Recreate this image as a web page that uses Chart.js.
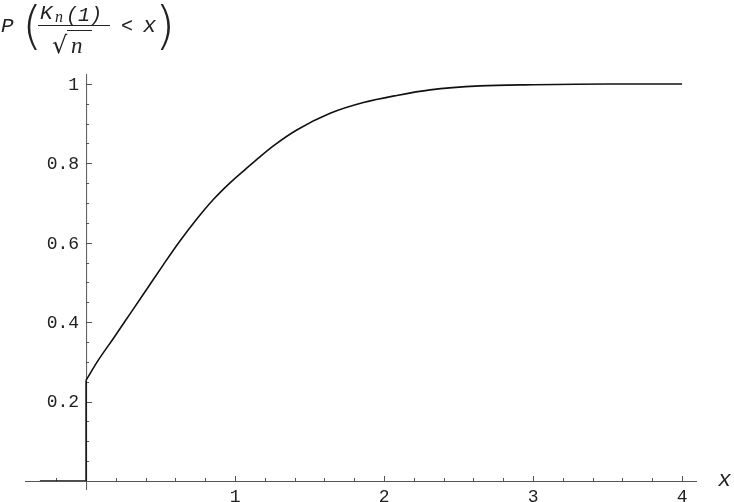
<!DOCTYPE html>
<html>
<head>
<meta charset="utf-8">
<script src="https://cdn.jsdelivr.net/npm/chart.js@4/dist/chart.umd.min.js"></script>
<style>
  html, body { margin: 0; padding: 0; background: #fff; }
  #wrap { width: 734px; height: 502px; position: relative; }
</style>
</head>
<body>
<div id="wrap"><canvas id="c"></canvas></div>
<script>
// ---- data ----
// step part: zero for x < 0, jump at x = 0
const stepX = [-0.31, 0, 0];
const stepY = [0, 0, 0.254];
// continuous part of the distribution function
const curveX = [0, 0.083, 0.183, 0.295, 0.407, 0.519, 0.631, 0.743, 0.854, 0.966, 1.078, 1.146, 1.257, 1.414, 1.638, 1.861, 2.085, 2.309, 2.644, 3.0, 3.5, 4.0];
const curveY = [0.254, 0.305, 0.359, 0.421, 0.483, 0.545, 0.605, 0.660, 0.709, 0.751, 0.788, 0.810, 0.844, 0.884, 0.926, 0.953, 0.971, 0.985, 0.995, 0.998, 1.0, 1.0];

const xTickValues = [1, 2, 3, 4];
const xTickLabels = ['1', '2', '3', '4'];
const xMinorTicks = [-0.2, 0.2, 0.4, 0.6, 0.8, 1.2, 1.4, 1.6, 1.8, 2.2, 2.4, 2.6, 2.8, 3.2, 3.4, 3.6, 3.8];
const yTickValues = [0.2, 0.4, 0.6, 0.8, 1];
const yTickLabels = ['0.2', '0.4', '0.6', '0.8', '1'];
const yMinorTicks = [0.05, 0.1, 0.15, 0.25, 0.3, 0.35, 0.45, 0.5, 0.55, 0.65, 0.7, 0.75, 0.85, 0.9, 0.95];
const xAxisLabel = 'x';

const MONO = '"Liberation Mono", "DejaVu Sans Mono", monospace';

const axesPlugin = {
  id: 'mathAxes',
  beforeDatasetsDraw(chart) {
    const ctx = chart.ctx;
    const xs = chart.scales.x, ys = chart.scales.y;
    const x0 = xs.getPixelForValue(0);
    const y0 = ys.getPixelForValue(0);
    ctx.save();
    ctx.strokeStyle = '#555';
    ctx.lineWidth = 1;
    ctx.beginPath();
    ctx.moveTo(xs.left, y0 + 0.5);
    ctx.lineTo(xs.right, y0 + 0.5);
    ctx.moveTo(x0 + 0.5, ys.top);
    ctx.lineTo(x0 + 0.5, y0 + 9);
    ctx.stroke();
    ctx.beginPath();
    xMinorTicks.forEach(v => { const p = Math.round(xs.getPixelForValue(v)) + 0.5; ctx.moveTo(p, y0); ctx.lineTo(p, y0 - 3); });
    xTickValues.forEach(v => { const p = Math.round(xs.getPixelForValue(v)) + 0.5; ctx.moveTo(p, y0); ctx.lineTo(p, y0 - 5); });
    yMinorTicks.forEach(v => { const p = Math.round(ys.getPixelForValue(v)) + 0.5; ctx.moveTo(x0, p); ctx.lineTo(x0 + 3, p); });
    yTickValues.forEach(v => { const p = Math.round(ys.getPixelForValue(v)) + 0.5; ctx.moveTo(x0, p); ctx.lineTo(x0 + 6, p); });
    ctx.stroke();
    ctx.restore();
  },
  afterDraw(chart) {
    const ctx = chart.ctx;
    const xs = chart.scales.x, ys = chart.scales.y;
    const x0 = xs.getPixelForValue(0);
    const y0 = ys.getPixelForValue(0);
    ctx.save();
    ctx.fillStyle = '#222';
    ctx.font = '18px ' + MONO;
    ctx.textAlign = 'center';
    ctx.textBaseline = 'alphabetic';
    xTickValues.forEach((v, i) => ctx.fillText(xTickLabels[i], xs.getPixelForValue(v), y0 + 21));
    ctx.textAlign = 'right';
    ctx.textBaseline = 'middle';
    yTickValues.forEach((v, i) => ctx.fillText(yTickLabels[i], x0 - 7, ys.getPixelForValue(v) + 1));
    ctx.font = 'italic 22px ' + MONO;
    ctx.textAlign = 'left';
    ctx.textBaseline = 'alphabetic';
    ctx.fillText(xAxisLabel, 718, y0 + 5);

    // y axis title: P( Kn(1)/sqrt(n) < x )
    ctx.font = 'italic 21px ' + MONO;
    ctx.fillText('P', 1, 32);
    ctx.font = '200 52px "DejaVu Sans", sans-serif';
    ctx.fillText('(', 22, 43);
    ctx.fillText(')', 155, 43);
    ctx.font = 'italic 21px ' + MONO;
    ctx.fillText('K', 40, 19);
    ctx.font = 'italic 16px "Liberation Serif", serif';
    ctx.fillText('n', 55, 22);
    ctx.font = 'italic 20px ' + MONO;
    ctx.fillText('(1)', 66, 21);
    ctx.strokeStyle = '#222';
    ctx.lineWidth = 1;
    ctx.beginPath();
    ctx.moveTo(38, 25.5); ctx.lineTo(110, 25.5);
    ctx.stroke();
    ctx.font = '24px "DejaVu Sans", sans-serif';
    ctx.fillText('\u221A', 52, 53);
    ctx.beginPath();
    ctx.moveTo(67, 30.5); ctx.lineTo(92, 30.5);
    ctx.stroke();
    ctx.font = 'italic 23px "Liberation Serif", serif';
    ctx.fillText('n', 71, 53);
    ctx.font = '20px ' + MONO;
    ctx.fillText('<', 121, 32);
    ctx.font = 'italic 22px ' + MONO;
    ctx.fillText('x', 143, 32);
    ctx.restore();
  }
};

const stepPoints = stepX.map((x, i) => ({ x: x, y: stepY[i] }));
const curvePoints = curveX.map((x, i) => ({ x: x, y: curveY[i] }));

new Chart(document.getElementById('c'), {
  type: 'line',
  data: {
    datasets: [{
      data: stepPoints,
      borderColor: '#111',
      borderWidth: 1.6,
      pointRadius: 0,
      tension: 0,
      fill: false
    }, {
      data: curvePoints,
      borderColor: '#111',
      borderWidth: 1.6,
      pointRadius: 0,
      cubicInterpolationMode: 'monotone',
      fill: false
    }]
  },
  options: {
    responsive: true,
    maintainAspectRatio: false,
    animation: false,
    layout: { padding: { left: 25, right: 37, top: 74, bottom: 21 } },
    scales: {
      x: { type: 'linear', min: -0.41, max: 4.1, display: false },
      y: { type: 'linear', min: 0, max: 1.025, display: false }
    },
    plugins: { legend: { display: false }, tooltip: { enabled: false } }
  },
  plugins: [axesPlugin]
});
</script>
</body>
</html>
